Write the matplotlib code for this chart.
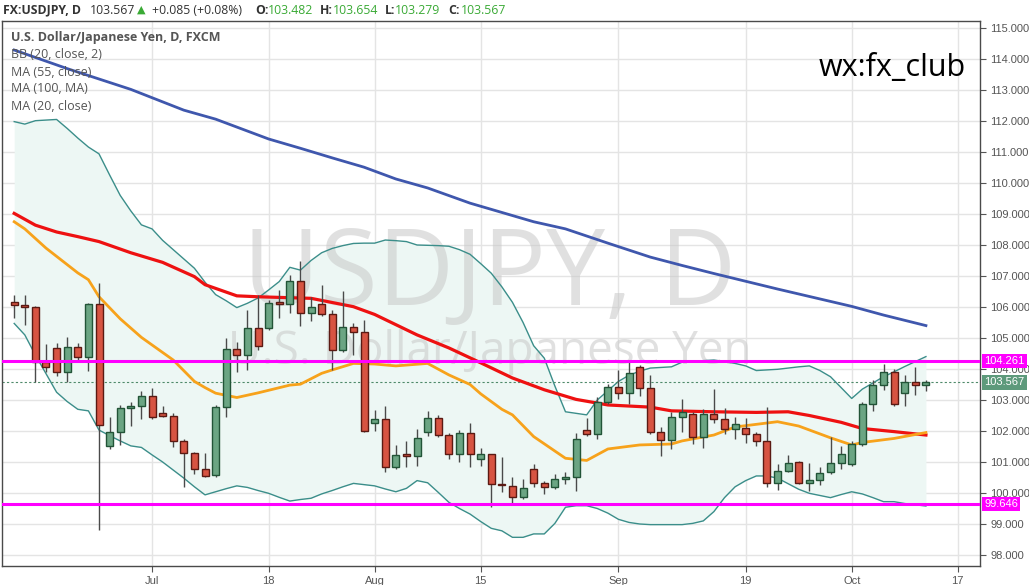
import numpy as np
import pandas as pd
import matplotlib.pyplot as plt

# ---- data ----
dates = pd.bdate_range('2016-06-14', '2016-10-12')

opens = [106.17, 106.06, 105.99, 104.22, 104.67, 103.89, 104.70, 104.38, 106.10, 101.51,
         101.96, 102.73, 102.81, 103.14, 102.57, 102.49, 101.69, 101.28, 100.76, 100.58,
         102.76, 104.63, 104.44, 105.31, 105.31, 106.13, 106.10, 106.84, 105.80, 106.09,
         105.76, 104.61, 105.34, 105.20, 102.25, 102.38, 100.85, 101.25, 101.19, 101.96,
         102.41, 101.87, 101.25, 101.93, 101.09, 101.25, 100.30, 100.24, 99.86, 100.76,
         100.31, 100.20, 100.44, 100.50, 102.03, 101.89, 102.93, 103.41, 103.22, 104.05,
         103.38, 101.98, 101.71, 102.46, 102.54, 101.80, 102.54, 102.38, 102.05, 102.11,
         101.89, 101.68, 100.31, 100.72, 101.01, 100.31, 100.42, 100.67, 100.98, 100.92,
         101.58, 102.86, 103.48, 103.89, 103.22, 103.57, 103.482]
highs = [106.39, 106.39, 106.02, 104.81, 104.85, 105.04, 104.85, 106.14, 106.78, 102.46,
         102.84, 102.94, 103.30, 103.38, 102.81, 102.57, 101.74, 101.33, 101.28, 102.84,
         104.99, 104.88, 105.90, 106.39, 106.23, 106.55, 107.03, 107.49, 106.33, 106.71,
         105.90, 106.52, 105.47, 105.58, 102.68, 102.81, 101.55, 101.67, 102.05, 102.65,
         102.52, 101.92, 102.03, 102.27, 101.44, 101.27, 101.15, 100.53, 100.44, 100.92,
         100.39, 100.61, 100.69, 101.95, 102.41, 103.11, 103.52, 103.97, 104.27, 104.13,
         103.81, 102.12, 102.62, 103.02, 102.62, 102.71, 103.34, 102.73, 102.44, 102.41,
         101.98, 102.78, 100.94, 101.23, 101.04, 100.96, 100.83, 101.82, 101.52, 101.68,
         102.95, 103.65, 104.16, 103.99, 103.81, 104.07, 103.654]
lows = [105.65, 105.42, 103.59, 103.90, 103.77, 103.59, 104.29, 103.94, 98.81, 101.41,
        101.55, 102.16, 102.38, 102.40, 102.46, 101.47, 100.20, 100.60, 100.53, 100.53,
        102.46, 103.91, 103.97, 104.61, 105.25, 105.64, 105.82, 105.39, 105.55, 105.70,
        103.97, 104.55, 104.45, 101.98, 102.01, 100.69, 100.76, 100.85, 100.87, 101.84,
        101.80, 101.10, 101.00, 100.85, 100.87, 99.56, 100.04, 99.69, 99.80, 100.20,
        99.97, 100.12, 100.28, 100.07, 101.84, 101.74, 102.87, 103.03, 102.87, 103.14,
        101.90, 101.20, 101.41, 101.98, 101.57, 101.44, 102.27, 101.89, 101.73, 101.60,
        101.52, 100.20, 100.10, 100.69, 100.29, 100.07, 100.26, 100.60, 100.76, 100.88,
        101.50, 102.65, 103.32, 102.80, 102.82, 103.16, 103.279]
closes = [106.06, 105.99, 104.22, 104.05, 103.89, 104.70, 104.38, 106.10, 102.18, 101.96,
          102.73, 102.81, 103.14, 102.44, 102.49, 101.69, 101.28, 100.76, 100.55, 102.76,
          104.63, 104.44, 105.31, 104.74, 106.12, 106.11, 106.84, 105.80, 105.99, 105.76,
          104.61, 105.34, 105.20, 102.00, 102.38, 100.85, 101.22, 101.20, 101.76, 102.41,
          101.87, 101.25, 101.93, 101.25, 101.25, 100.28, 100.25, 99.86, 100.15, 100.31,
          100.20, 100.44, 100.50, 101.73, 101.89, 102.93, 103.41, 103.22, 103.86, 103.38,
          101.98, 101.71, 102.46, 102.62, 101.80, 102.54, 102.38, 102.05, 102.21, 101.89,
          101.68, 100.31, 100.72, 100.96, 100.31, 100.42, 100.66, 100.98, 101.25, 101.58,
          102.86, 103.48, 103.89, 102.86, 103.57, 103.48, 103.567]

# indicator lines (bar number, value)
ma100_bar = [0, 5, 11, 16, 19, 24, 27, 30, 33, 36, 39, 43, 46, 49, 52, 56, 60, 63, 66, 69, 72, 75, 79, 82, 86]
ma100_val = [114.29, 113.69, 113.02, 112.35, 112.06, 111.42, 111.12, 110.81, 110.51, 110.13, 109.84, 109.35,
             109.05, 108.75, 108.52, 108.06, 107.61, 107.34, 107.08, 106.83, 106.58, 106.34, 106.02, 105.74, 105.40]

ma55_bar = [0, 2, 4, 6, 8, 11, 14, 17, 18, 21, 23, 28, 32, 34, 38, 41, 44, 47, 50, 53, 56, 60, 62,
            66, 70, 73, 75, 78, 80, 83, 86]
ma55_val = [109.02, 108.64, 108.42, 108.27, 108.11, 107.75, 107.44, 106.98, 106.72, 106.36, 106.33, 106.28,
            106.01, 105.76, 105.10, 104.68, 104.20, 103.71, 103.33, 103.02, 102.84, 102.77, 102.65,
            102.62, 102.60, 102.62, 102.50, 102.28, 102.08, 101.98, 101.87]

ma20_bar = [0, 1, 3, 6, 7, 8, 10, 12, 15, 17, 18, 19, 21, 23, 26, 27, 29, 30, 32, 34, 36, 39, 41, 43, 44,
            46, 47, 49, 52, 54, 56, 59, 62, 63, 66, 68, 72, 74, 77, 79, 80, 83, 86]
ma20_val = [108.75, 108.52, 107.90, 107.10, 106.88, 106.33, 105.62, 105.02, 104.29, 103.60, 103.40, 103.22,
            103.08, 103.23, 103.48, 103.51, 103.86, 103.97, 104.18, 104.16, 104.10, 104.18, 103.81, 103.50,
            103.20, 102.70, 102.52, 101.82, 101.12, 101.05, 101.42, 101.55, 101.58, 101.68, 101.87, 102.13,
            102.30, 102.16, 101.78, 101.55, 101.63, 101.76, 101.95]

bb_bar = list(range(87))
bb_upper = [111.98, 111.90, 112.01, 112.03, 112.05, 111.76, 111.45, 111.16, 110.94, 110.26,
            109.60, 109.10, 108.65, 108.52, 108.15, 107.85, 107.55, 107.25, 106.80, 106.40,
            106.20, 105.98, 106.12, 106.29, 106.55, 106.82, 107.28, 107.19, 107.50, 107.75,
            107.89, 107.98, 108.05, 108.06, 108.06, 108.16, 108.14, 108.11, 108.00, 107.99,
            107.98, 107.96, 107.85, 107.70, 107.40, 107.09, 106.65, 106.15, 105.50, 104.75,
            104.35, 103.45, 102.62, 102.57, 102.52, 103.00, 103.30, 103.60, 103.80, 103.93,
            104.03, 104.05, 104.07, 104.22, 104.25, 104.27, 104.29, 104.24, 104.18, 104.10,
            103.95, 103.97, 103.99, 104.03, 104.07, 104.10, 103.95, 103.75, 103.40, 103.05,
            103.35, 103.55, 103.75, 103.91, 104.08, 104.24, 104.40]
bb_lower = [105.47, 105.10, 104.45, 103.85, 103.25, 102.95, 102.70, 102.65, 102.03, 101.85,
            101.68, 101.52, 101.47, 101.23, 101.00, 100.74, 100.48, 100.20, 99.94, 100.04,
            100.14, 100.23, 100.18, 100.08, 99.99, 99.86, 99.74, 99.79, 99.83, 99.97,
            100.08, 100.20, 100.31, 100.27, 100.23, 100.13, 100.04, 100.15, 100.40, 100.33,
            100.02, 99.70, 99.50, 99.32, 99.08, 98.86, 98.78, 98.57, 98.57, 98.68,
            98.68, 99.02, 99.54, 99.59, 99.59, 99.50, 99.35, 99.15, 99.05, 99.00,
            98.98, 98.98, 98.98, 98.98, 99.02, 99.10, 99.40, 99.85, 100.20, 100.40,
            100.55, 100.55, 100.48, 100.30, 100.12, 99.99, 99.92, 99.85, 99.95, 100.04,
            99.97, 99.85, 99.72, 99.72, 99.66, 99.62, 99.58]

level_hi = 104.261
level_lo = 99.646
last_price = 103.567

tick_dates = ['2016-07-01', '2016-07-18', '2016-08-01', '2016-08-15',
              '2016-09-01', '2016-09-19', '2016-10-03', '2016-10-17']
tick_labels = ['Jul', '18', 'Aug', '15', 'Sep', '19', 'Oct', '17']
price_ticks = list(range(98, 116))

# ---- figure ----
W, H = 1029, 585
fig = plt.figure(figsize=(W / 100, H / 100), dpi=100)
fig.patch.set_facecolor('white')
ax = fig.add_axes([2 / W, (H - 566) / H, 978 / W, 545 / H])

x = np.arange(len(dates))
o = np.array(opens); h = np.array(highs); l = np.array(lows); c = np.array(closes)

# bollinger band area
ax.fill_between(bb_bar, bb_lower, bb_upper, color='#edf7f4', zorder=1, lw=0)
ax.plot(bb_bar, bb_upper, color='#3b8e8a', lw=1, zorder=2)
ax.plot(bb_bar, bb_lower, color='#3b8e8a', lw=1, zorder=2)

# watermark (sits over the band fill, under the series)
ax.text(0.499, 0.479, 'USDJPY, D', transform=ax.transAxes, ha='center', va='baseline',
        fontsize=76, color='#c8c8c8', alpha=0.55, family='Open Sans', zorder=1.5)
ax.text(0.499, 0.371, 'U.S. Dollar/Japanese Yen', transform=ax.transAxes, ha='center',
        va='baseline', fontsize=33, color='#c8c8c8', alpha=0.55, family='Open Sans', zorder=1.5)

# moving averages
ax.plot(ma100_bar, ma100_val, color='#3f57ad', lw=2, zorder=3)
ax.plot(ma55_bar, ma55_val, color='#ee1111', lw=2.3, zorder=3)
ax.plot(ma20_bar, ma20_val, color='#f7a21b', lw=2, zorder=3)

# candles
up = c >= o
ax.vlines(x, l, h, color='#4a4a4a', lw=1, zorder=4)
body_lo = np.minimum(o, c)
body_h = np.maximum(np.abs(c - o), 0.04)
ax.bar(x[up], body_h[up], bottom=body_lo[up], width=0.66,
       color='#6ba583', edgecolor='#225437', lw=1, zorder=5)
ax.bar(x[~up], body_h[~up], bottom=body_lo[~up], width=0.66,
       color='#d75442', edgecolor='#5b1a13', lw=1, zorder=5)

# horizontal levels
ax.axhline(level_hi, color='#ff00ff', lw=2.2, zorder=6)
ax.axhline(level_lo, color='#ff00ff', lw=2.2, zorder=6)
ax.axhline(last_price, color='#4f8a6a', lw=0.8, ls=(0, (2, 2)), zorder=2)

# axes limits / ticks
ax.set_xlim(-1.15, 91.1)
ax.set_ylim(97.645, 115.226)
tick_pos = [len(pd.bdate_range(dates[0], d)) - 1 for d in tick_dates]
ax.set_xticks(tick_pos)
ax.set_xticklabels(tick_labels)
ax.yaxis.tick_right()
ax.set_yticks(price_ticks)
ax.set_yticklabels(['%.3f' % p for p in price_ticks])
ax.tick_params(axis='both', colors='#555555', labelsize=8, length=4, width=0.8)
for lab in ax.get_xticklabels() + ax.get_yticklabels():
    lab.set_fontfamily('Liberation Sans')
ax.grid(True, color='#e4e4e4', lw=1, zorder=0)
ax.set_axisbelow(True)
for s in ax.spines.values():
    s.set_color('#4a4a4a')
    s.set_linewidth(1)

# right-axis price tags
def tag(price, fc, txt):
    ax.annotate(txt, xy=(1, price), xycoords=('axes fraction', 'data'),
                xytext=(3, 0), textcoords='offset points', va='center', ha='left',
                color='white', fontsize=8, family='Liberation Sans',
                bbox=dict(boxstyle='square,pad=0.2', fc=fc, ec='none'),
                annotation_clip=False, zorder=10)

tag(level_hi, '#ff00ff', '104.261')
tag(last_price, '#5d9a7b', '103.567')
tag(level_lo, '#ff00ff', '99.646')

# texts placed by pixel position
def ftext(px, py, s, **kw):
    fig.text(px / W, 1 - py / H, s, ha='left', va='center', **kw)

fam = ['Open Sans', 'DejaVu Sans']
green = '#3aaa35'
ftext(3, 10, 'FX:USDJPY, D', fontsize=8.8, weight='bold', color='#333333', family=fam)
ftext(90, 10, '103.567', fontsize=8.8, color='#333333', family=fam)
ftext(137, 10, '\u25b2', fontsize=8, color=green, family=['DejaVu Sans'])
ftext(152, 10, '+0.085 (+0.08%)', fontsize=8.8, color='#333333', family=fam)
for px, lab, val in [(255, 'O:', '103.482'), (320, 'H:', '103.654'),
                     (385, 'L:', '103.279'), (448, 'C:', '103.567')]:
    ftext(px, 10, lab, fontsize=8.8, weight='bold', color='#333333', family=fam)
    ftext(px + (10 if lab == 'L:' else 13), 10, val, fontsize=8.8, color=green, family=fam)

ftext(11, 38, 'U.S. Dollar/Japanese Yen, D, FXCM', fontsize=9.0, weight='bold',
      color='#555555', family=fam)
for py, s in [(55, 'BB (20, close, 2)'), (72, 'MA (55, close)'),
              (89, 'MA (100, MA)'), (106, 'MA (20, close)')]:
    ftext(11, py, s, fontsize=9.0, color='#555555', family=fam)

fig.text(892 / W, 1 - 68 / H, 'wx:fx_club', ha='center', va='center', fontsize=22,
         color='black', family=fam)

fig.savefig('out.png', dpi=100)
